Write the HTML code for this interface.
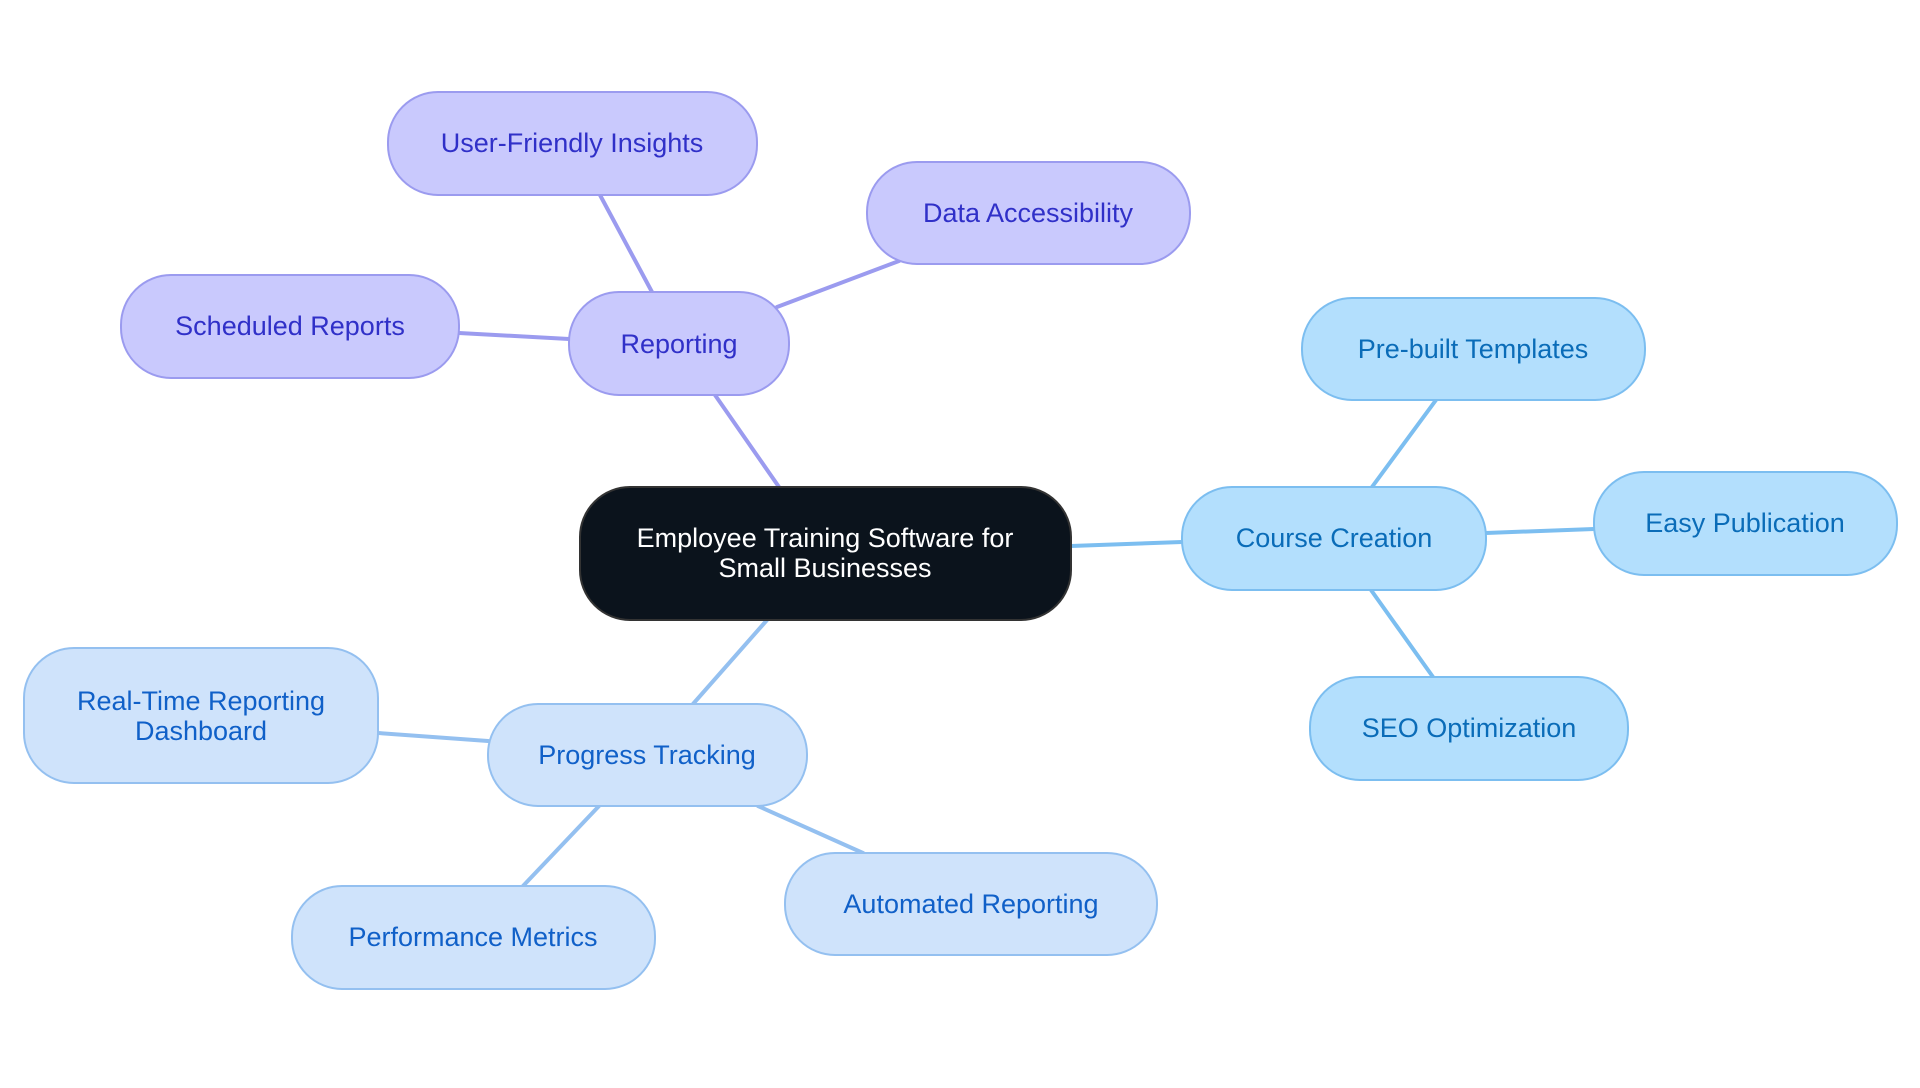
<!DOCTYPE html>
<html><head><meta charset="utf-8"><style>
body{margin:0;background:#fff;}
svg text{font-family:"Liberation Sans",sans-serif;font-size:27px;text-anchor:middle;dominant-baseline:central;}
</style></head><body>
<svg width="1920" height="1083" viewBox="0 0 1920 1083" xmlns="http://www.w3.org/2000/svg">
<g stroke-width="4" fill="none" stroke-linecap="round">
<line x1="779" y1="487" x2="715" y2="395" stroke="#9b9bef"/>
<line x1="652" y1="292" x2="600" y2="195" stroke="#9b9bef"/>
<line x1="777" y1="307" x2="899" y2="261" stroke="#9b9bef"/>
<line x1="569" y1="339" x2="459" y2="333" stroke="#9b9bef"/>
<line x1="1071" y1="546" x2="1182" y2="542" stroke="#7cbef0"/>
<line x1="1372" y1="487" x2="1436" y2="400" stroke="#7cbef0"/>
<line x1="1486" y1="533" x2="1594" y2="529" stroke="#7cbef0"/>
<line x1="1371" y1="590" x2="1433" y2="677" stroke="#7cbef0"/>
<line x1="767" y1="620" x2="693" y2="704" stroke="#94c0f0"/>
<line x1="488" y1="741" x2="378" y2="733" stroke="#94c0f0"/>
<line x1="599" y1="806" x2="523" y2="886" stroke="#94c0f0"/>
<line x1="758" y1="806" x2="863" y2="853" stroke="#94c0f0"/>
</g>
<g stroke-width="2">
<rect x="580" y="487" width="491" height="133" rx="50" fill="#0b131c" stroke="#333"/>
<g fill="#c9c9fd" stroke="#9b9bef">
<rect x="569" y="292" width="220" height="103" rx="50"/>
<rect x="388" y="92" width="369" height="103" rx="50"/>
<rect x="867" y="162" width="323" height="102" rx="50"/>
<rect x="121" y="275" width="338" height="103" rx="50"/>
</g>
<g fill="#b3dffd" stroke="#7cbef0">
<rect x="1182" y="487" width="304" height="103" rx="50"/>
<rect x="1302" y="298" width="343" height="102" rx="50"/>
<rect x="1594" y="472" width="303" height="103" rx="50"/>
<rect x="1310" y="677" width="318" height="103" rx="50"/>
</g>
<g fill="#cfe3fb" stroke="#94c0f0">
<rect x="488" y="704" width="319" height="102" rx="50"/>
<rect x="24" y="648" width="354" height="135" rx="50"/>
<rect x="292" y="886" width="363" height="103" rx="50"/>
<rect x="785" y="853" width="372" height="102" rx="50"/>
</g>
</g>
<text x="825" y="538" fill="#fff">Employee Training Software for</text>
<text x="825" y="568" fill="#fff">Small Businesses</text>
<g fill="#3030c8">
<text x="679" y="344">Reporting</text>
<text x="572" y="143">User-Friendly Insights</text>
<text x="1028" y="213">Data Accessibility</text>
<text x="290" y="326">Scheduled Reports</text>
</g>
<g fill="#0a6cb8">
<text x="1334" y="538">Course Creation</text>
<text x="1473" y="349">Pre-built Templates</text>
<text x="1745" y="523">Easy Publication</text>
<text x="1469" y="728">SEO Optimization</text>
</g>
<g fill="#1060c8">
<text x="647" y="755">Progress Tracking</text>
<text x="201" y="701">Real-Time Reporting</text>
<text x="201" y="731">Dashboard</text>
<text x="473" y="937">Performance Metrics</text>
<text x="971" y="904">Automated Reporting</text>
</g>
</svg>
</body></html>
